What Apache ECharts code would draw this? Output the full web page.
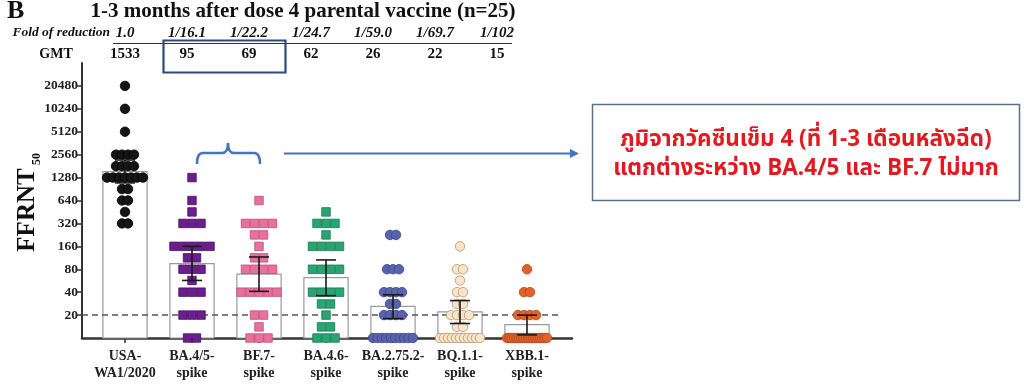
<!DOCTYPE html>
<html><head><meta charset="utf-8">
<script src="https://cdn.jsdelivr.net/npm/echarts/dist/echarts.min.js"></script>
<style>html,body{margin:0;padding:0;background:#fff}#c{width:1024px;height:388px}</style>
</head><body><div id="c"></div>
<script>
const categories = ['USA-\nWA1/2020','BA.4/5-\nspike','BF.7-\nspike','BA.4.6-\nspike','BA.2.75.2-\nspike','BQ.1.1-\nspike','XBB.1-\nspike'];
const foldLabels = ['1.0','1/16.1','1/22.2','1/24.7','1/59.0','1/69.7','1/102'];
const gmtValues = [1533,95,69,62,26,22,15];
const ciLow = [1090,57,41,36,18,15.5,11];
const ciHigh = [2180,160,116,106,37,31,20];
const yTicks = [20,40,80,160,320,640,1280,2560,5120,10240,20480];
const lodValue = 20;

const usaPts = [20480,10240,5120,2560,2560,2560,2560,1810,1810,1810,1810,1280,1280,1280,1280,1280,1280,1280,905,905,640,640,453,320,320];
const ba45Pts = [1280,640,453,320,320,320,160,160,160,160,160,113,113,80,80,80,57,40,40,40,20,20,20,10,10];
const bf7Pts = [640,320,320,320,320,226,226,160,113,113,80,80,80,80,40,40,40,40,40,20,20,14,10,10,10];
const ba46Pts = [453,320,320,320,226,160,160,160,160,80,80,80,80,40,40,40,40,28,28,20,14,14,10,10,10];
const ba2752Pts = [226,226,80,80,80,40,40,40,40,28,28,20,20,20,20,10,10,10,10,10,10,10,10,10,10];
const bq11Pts = [160,80,80,57,40,40,28,28,20,20,20,20,14,14,10,10,10,10,10,10,10,10,10,10,10];
const xbb1Pts = [80,40,40,20,20,20,20,10,10,10,10,10,10,10,10,10,10,10,10,10,10,10,10,10,10];

const groups = [
  {pts: usaPts, symbol:'circle', color:'#151515', border:'#000000'},
  {pts: ba45Pts, symbol:'rect', color:'#6b1f8f', border:'#4a0f66'},
  {pts: bf7Pts, symbol:'rect', color:'#e8719b', border:'#c44c78'},
  {pts: ba46Pts, symbol:'rect', color:'#27a674', border:'#18784f'},
  {pts: ba2752Pts, symbol:'circle', color:'#5a62ad', border:'#3c438e'},
  {pts: bq11Pts, symbol:'circle', color:'#f7e4c9', border:'#b8966d'},
  {pts: xbb1Pts, symbol:'circle', color:'#e2622b', border:'#b2461a'}
];

const SERIF = "'Liberation Serif','DejaVu Serif',serif";
const THAI = "'Noto Sans Thai','Noto Sans','DejaVu Sans',sans-serif";
const chart = echarts.init(document.getElementById('c'), null, {renderer:'canvas'});

function swarm(pts, gi, symbol) {
  const counts = {};
  pts.forEach(v => counts[v] = (counts[v] || 0) + 1);
  const seen = {};
  return pts.map(v => {
    const n = counts[v];
    const j = seen[v] = (seen[v] === undefined ? 0 : seen[v] + 1);
    const base = symbol === 'rect' ? 9 : 6;
    const sp = n > 1 ? Math.min(base, 40 / (n - 1)) : 0;
    return {value:[gi, v], symbolOffset:[(j - (n - 1) / 2) * sp, 0]};
  });
}

const series = [];
series.push({
  type:'custom', xAxisIndex:0, yAxisIndex:0, z:1,
  data: gmtValues.map((v,i)=>[i,v]),
  renderItem(params, api){
    const top = api.coord([api.value(0), api.value(1)]);
    const base = api.coord([api.value(0), 10]);
    const w = api.size([1,0])[0]*0.66;
    return {type:'rect', shape:{x:top[0]-w/2, y:top[1], width:w, height:base[1]-top[1]},
      style:{fill:'#ffffff', stroke:'#9a9a9a', lineWidth:1.2}};
  }
});
series.push({
  type:'line', xAxisIndex:1, yAxisIndex:1, z:2, symbol:'none', silent:true,
  data:[[0, lodValue],[0.972, lodValue]],
  lineStyle:{color:'#555', width:1.5, type:[6,4]}
});
groups.forEach((g,gi)=>{
  series.push({
    type:'scatter', xAxisIndex:0, yAxisIndex:0, z:3,
    symbol:g.symbol, symbolSize: g.symbol==='rect' ? 8.5 : 9.5,
    itemStyle:{color:g.color, borderColor:g.border, borderWidth:0.8, opacity:1},
    data: swarm(g.pts, gi, g.symbol)
  });
});
series.push({
  type:'custom', xAxisIndex:0, yAxisIndex:0, z:4,
  data: gmtValues.map((v,i)=>[i, ciLow[i], ciHigh[i]]),
  renderItem(params, api){
    const lo = api.coord([api.value(0), api.value(1)]);
    const hi = api.coord([api.value(0), api.value(2)]);
    const cw = 10;
    const st = {stroke:'#1a1a1a', lineWidth:1.6};
    return {type:'group', children:[
      {type:'line', shape:{x1:lo[0], y1:lo[1], x2:hi[0], y2:hi[1]}, style:st},
      {type:'line', shape:{x1:lo[0]-cw, y1:lo[1], x2:lo[0]+cw, y2:lo[1]}, style:st},
      {type:'line', shape:{x1:hi[0]-cw, y1:hi[1], x2:hi[0]+cw, y2:hi[1]}, style:st}
    ]};
  }
});

const graphics = [];
graphics.push({type:'text', x:7, y:11, style:{text:'B', font:"bold 26px "+SERIF, fill:'#111', textVerticalAlign:'middle'}});
graphics.push({type:'text', x:303, y:12, style:{text:'1-3 months after dose 4 parental vaccine (n=25)', font:"bold 21px "+SERIF, fill:'#111', textAlign:'center', textVerticalAlign:'middle'}});
graphics.push({type:'text', x:110, y:33, style:{text:'Fold of reduction', font:"italic bold 13.5px "+SERIF, fill:'#111', textAlign:'right', textVerticalAlign:'middle'}});
graphics.push({type:'text', x:56, y:54, style:{text:'GMT', font:"bold 14px "+SERIF, fill:'#111', textAlign:'center', textVerticalAlign:'middle'}});
graphics.push({type:'line', shape:{x1:113, y1:43.5, x2:512, y2:43.5}, style:{stroke:'#333', lineWidth:1}});
foldLabels.forEach((t,i)=>{
  const x = 125 + i*62;
  graphics.push({type:'text', x:x, y:33, style:{text:t, font:"italic bold 15px "+SERIF, fill:'#111', textAlign:'center', textVerticalAlign:'middle'}});
  graphics.push({type:'text', x:x, y:54, style:{text:String(gmtValues[i]), font:"bold 15px "+SERIF, fill:'#111', textAlign:'center', textVerticalAlign:'middle'}});
});
graphics.push({type:'rect', shape:{x:163.5, y:40.5, width:122, height:32}, style:{fill:'none', stroke:'#2c4a80', lineWidth:2.2}});
graphics.push({type:'group', x:28, y:210, rotation:Math.PI/2, children:[
  {type:'text', x:0, y:0, style:{text:'FFRNT', font:"bold 25px "+SERIF, fill:'#111', textAlign:'center', textVerticalAlign:'middle'}},
  {type:'text', x:45, y:9, style:{text:'50', font:"bold 12px "+SERIF, fill:'#111', textAlign:'left', textVerticalAlign:'middle'}}
]});
// bracket + arrow
const bst = {fill:'none', stroke:'#4472c4', lineWidth:2.5};
graphics.push({type:'bezierCurve', shape:{x1:197, y1:164, x2:203, y2:153, cpx1:197, cpy1:153}, style:bst});
graphics.push({type:'line', shape:{x1:203, y1:153, x2:222, y2:153}, style:bst});
graphics.push({type:'bezierCurve', shape:{x1:222, y1:153, x2:228, y2:143, cpx1:228, cpy1:153}, style:bst});
graphics.push({type:'bezierCurve', shape:{x1:228, y1:143, x2:234, y2:153, cpx1:228, cpy1:153}, style:bst});
graphics.push({type:'line', shape:{x1:234, y1:153, x2:254, y2:153}, style:bst});
graphics.push({type:'bezierCurve', shape:{x1:254, y1:153, x2:260, y2:164, cpx1:260, cpy1:153}, style:bst});
graphics.push({type:'line', shape:{x1:284, y1:153.5, x2:571, y2:153.5}, style:{stroke:'#4472c4', lineWidth:2}});
graphics.push({type:'polygon', shape:{points:[[570,149],[579,153.5],[570,158]]}, style:{fill:'#4472c4'}});
// note box
graphics.push({type:'rect', shape:{x:592.5, y:104.5, width:427, height:96}, style:{fill:'#fff', stroke:'#5b6f8f', lineWidth:1.5}});
graphics.push({type:'text', x:806, y:141, style:{text:'ภูมิจากวัคซีนเข็ม 4 (ที่ 1-3 เดือนหลังฉีด)', font:"bold 22.5px "+THAI, fill:'#e3191f', textAlign:'center', textVerticalAlign:'middle'}});
graphics.push({type:'text', x:806, y:170, style:{text:'แตกต่างระหว่าง BA.4/5 และ BF.7 ไม่มาก', font:"bold 22.5px "+THAI, fill:'#e3191f', textAlign:'center', textVerticalAlign:'middle'}});

const option = {
  animation:false,
  backgroundColor:'#ffffff',
  grid:[
    {left:91.5, width:469, top:63, height:275},
    {left:82, width:490, top:63, height:275}
  ],
  xAxis:[
    {type:'category', gridIndex:0, data:categories, boundaryGap:true,
      axisLine:{show:false},
      axisTick:{show:true, alignWithLabel:true, length:5, lineStyle:{color:'#333', width:1.5}},
      axisLabel:{fontFamily:SERIF, fontWeight:'bold', fontSize:14, color:'#222', lineHeight:17, margin:10, interval:0},
      splitLine:{show:false}},
    {type:'value', gridIndex:1, min:0, max:1, show:true,
      axisLine:{show:true, onZero:false, lineStyle:{color:'#333', width:2.5}},
      axisTick:{show:false}, axisLabel:{show:false}, splitLine:{show:false}}
  ],
  yAxis:[
    {type:'log', logBase:2, gridIndex:0, min:10, max:40960, show:false, splitLine:{show:false}},
    {type:'log', logBase:2, gridIndex:1, min:10, max:40960,
      axisLine:{show:true, lineStyle:{color:'#333', width:2}},
      axisTick:{show:true, length:6, customValues:yTicks, lineStyle:{color:'#333', width:1.5}},
      axisLabel:{customValues:yTicks, formatter:(v)=>String(Math.round(v)), fontFamily:SERIF, fontWeight:'bold', fontSize:13.5, color:'#222', margin:4},
      minorTick:{show:false}, splitLine:{show:false}}
  ],
  series: series,
  graphic: graphics
};
chart.setOption(option);
</script></body></html>
